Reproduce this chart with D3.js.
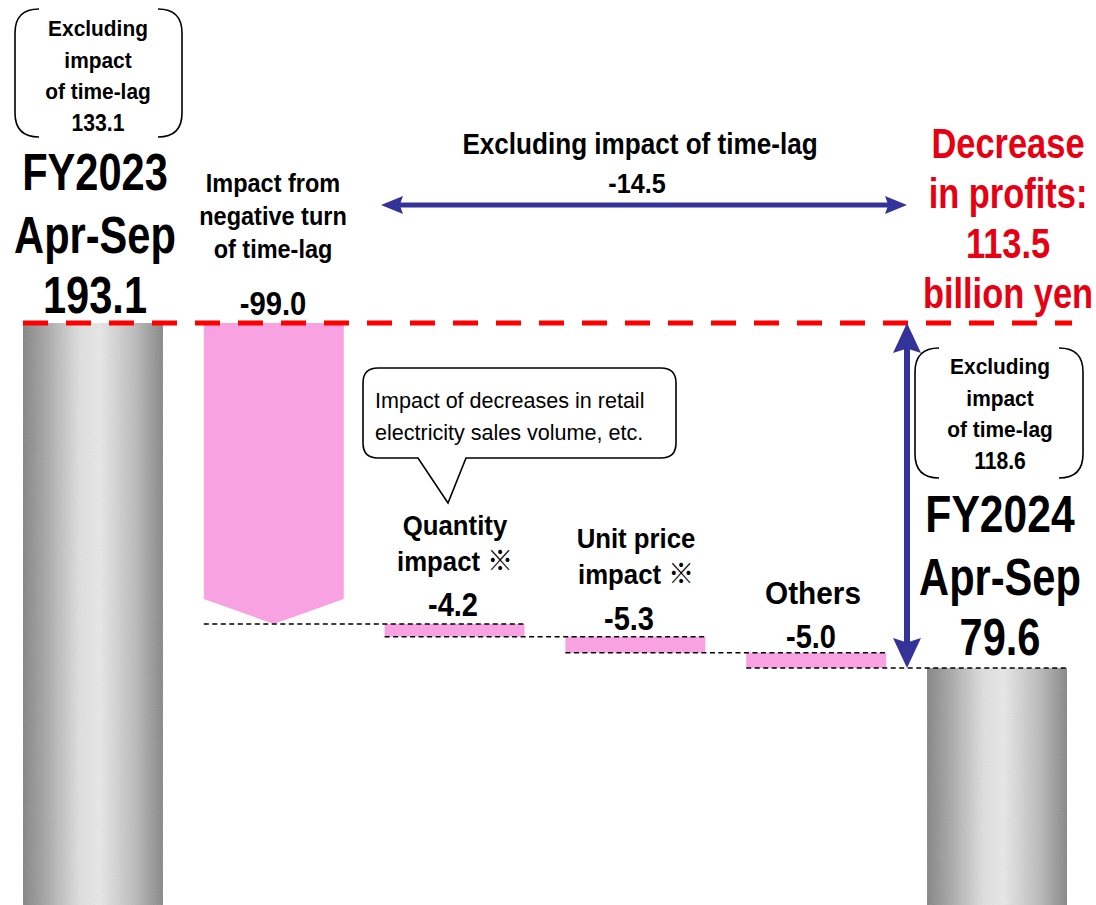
<!DOCTYPE html>
<html>
<head>
<meta charset="utf-8">
<script src="https://cdn.jsdelivr.net/npm/d3@7"></script>
<style>
  html, body { margin: 0; padding: 0; background: #fff; }
  svg { display: block; }
  text { font-family: "Liberation Sans", Arial, "Noto Sans CJK JP", sans-serif; }
</style>
</head>
<body>
<svg id="chart" width="1096" height="905"></svg>
<script>
// Ordinary profit bridge, FY2023 Apr-Sep -> FY2024 Apr-Sep (billion yen)
const steps = ["FY2023", "TimeLag", "Quantity", "UnitPrice", "Others", "FY2024"];
const startValue = 193.1;
const endValue = 79.6;
const deltas = [-99.0, -4.2, -5.3, -5.0];          // TimeLag, Quantity, UnitPrice, Others
const excludingTimeLag = [133.1, 118.6];            // FY2023, FY2024
const excludingChange = -14.5;
const totalChange = -113.5;

const stepLabels = [
  ["FY2023", "Apr-Sep"],
  ["Impact from", "negative turn", "of time-lag"],
  ["Quantity", "impact \u203B"],
  ["Unit price", "impact \u203B"],
  ["Others"],
  ["FY2024", "Apr-Sep"]
];
const calloutLines = ["Impact of decreases in retail", "electricity sales volume, etc."];

const svg = d3.select("#chart");

const x = d3.scaleBand().domain(steps).range([23, 1067]).paddingInner(0.226).paddingOuter(0);
const y = d3.scaleLinear().domain([0, startValue]).range([910, 323]);

const PINK = "#f8a2e2", BLUE = "#333399", RED = "#e60012";

// running levels after each step
const levels = [startValue];
deltas.forEach(d => levels.push(+(levels[levels.length - 1] + d).toFixed(1)));

const defs = svg.append("defs");
const grad = defs.append("linearGradient").attr("id", "cyl").attr("x1", 0).attr("x2", 1).attr("y1", 0).attr("y2", 0);
[[0, "#828282"], [0.16, "#a6a6a6"], [0.4, "#e0e0e0"], [0.55, "#e9e9e9"], [0.8, "#bcbcbc"], [1, "#848484"]]
  .forEach(([o, c]) => grad.append("stop").attr("offset", o).attr("stop-color", c));
// fine grain on the cylinder texture
const grain = defs.append("filter").attr("id", "grain").attr("x", 0).attr("y", 0).attr("width", 1).attr("height", 1);
grain.append("feTurbulence").attr("type", "fractalNoise").attr("baseFrequency", 0.9).attr("numOctaves", 1).attr("seed", 3).attr("result", "n");
grain.append("feColorMatrix").attr("in", "n").attr("type", "matrix")
  .attr("values", "0 0 0 0 0.5  0 0 0 0 0.5  0 0 0 0 0.5  0 0 0 0.35 -0.08").attr("result", "g");
grain.append("feComposite").attr("in", "g").attr("in2", "SourceGraphic").attr("operator", "in").attr("result", "gi");
grain.append("feMerge").selectAll("feMergeNode").data(["SourceGraphic", "gi"]).join("feMergeNode").attr("in", d => d);

// total bars (cylinder look)
const totals = [{ k: "FY2023", v: startValue }, { k: "FY2024", v: endValue }];
svg.selectAll("rect.total").data(totals).join("rect")
  .attr("class", "total")
  .attr("x", d => x(d.k)).attr("width", x.bandwidth())
  .attr("y", d => y(d.v)).attr("height", d => y(0) - y(d.v))
  .attr("fill", "url(#cyl)")
  .attr("filter", "url(#grain)");

// time-lag step drawn as a downward block arrow
{
  const k = steps[1];
  const x0 = x(k), x1 = x(k) + x.bandwidth(), xc = (x0 + x1) / 2;
  const yTop = y(levels[0]), yEnd = y(levels[1]);
  svg.append("path")
    .attr("d", `M${x0},${yTop}H${x1}V${yEnd - 25}L${xc},${yEnd}L${x0},${yEnd - 25}Z`)
    .attr("fill", PINK);
}

// remaining decrease steps
const small = deltas.slice(1).map((d, i) => ({ k: steps[i + 2], from: levels[i + 1], to: levels[i + 2] }));
svg.selectAll("rect.step").data(small).join("rect")
  .attr("class", "step")
  .attr("x", d => x(d.k)).attr("width", x.bandwidth())
  .attr("y", d => y(d.from)).attr("height", d => y(d.to) - y(d.from))
  .attr("fill", PINK);

// dashed connectors between consecutive steps
const conn = levels.slice(1).map((v, i) => ({ v, a: steps[i + 1], b: steps[i + 2] }));
svg.selectAll("line.conn").data(conn).join("line")
  .attr("class", "conn")
  .attr("x1", d => x(d.a)).attr("x2", d => x(d.b) + x.bandwidth())
  .attr("y1", d => y(d.v)).attr("y2", d => y(d.v))
  .attr("stroke", "#000").attr("stroke-width", 1.5).attr("stroke-dasharray", "5,3.5");

// FY2023 level reference line
svg.append("line")
  .attr("x1", 23).attr("x2", 1072)
  .attr("y1", y(startValue)).attr("y2", y(startValue))
  .attr("stroke", "#ff0000").attr("stroke-width", 5).attr("stroke-dasharray", "25,18");

// arrows
function arrowHead(tip, dir, len, half) {
  const [tx, ty] = tip, [dx, dy] = dir;
  const bx = tx - dx * len, by = ty - dy * len;
  const nx = -dy, ny = dx;
  const notch = len * 0.15;
  return `M${tx},${ty}L${bx + nx * half},${by + ny * half}L${tx - dx * (len - notch)},${ty - dy * (len - notch)}L${bx - nx * half},${by - ny * half}Z`;
}
const hY = 205, hX0 = 381, hX1 = 907;
svg.append("line").attr("x1", hX0 + 15).attr("x2", hX1 - 15).attr("y1", hY).attr("y2", hY)
  .attr("stroke", BLUE).attr("stroke-width", 5);
svg.append("path").attr("d", arrowHead([hX0, hY], [-1, 0], 22, 9)).attr("fill", BLUE);
svg.append("path").attr("d", arrowHead([hX1, hY], [1, 0], 22, 9)).attr("fill", BLUE);

const vX = 907, vY0 = y(startValue), vY1 = y(endValue);
svg.append("line").attr("x1", vX).attr("x2", vX).attr("y1", vY0 + 20).attr("y2", vY1 - 20)
  .attr("stroke", BLUE).attr("stroke-width", 6);
svg.append("path").attr("d", arrowHead([vX, vY0], [0, -1], 30, 14)).attr("fill", BLUE);
svg.append("path").attr("d", arrowHead([vX, vY1], [0, 1], 30, 14)).attr("fill", BLUE);

// text helper (slightly condensed)
function label(str, cx, by, size, opt = {}) {
  const sx = opt.sx ?? 0.9;
  return svg.append("text")
    .attr("transform", `translate(${cx},${by}) scale(${sx},1)`)
    .attr("text-anchor", opt.anchor || "middle")
    .attr("font-size", size)
    .attr("font-weight", opt.weight || "bold")
    .attr("fill", opt.fill || "#000")
    .text(str);
}
const fmt = v => (v < 0 ? "-" : "") + Math.abs(v).toFixed(1);

// bracket boxes with "excluding time-lag" figures
function bracketBox(x0, y0, x1, y1, r) {
  [[x0, x0 + r], [x1, x1 - r]].forEach(([edge, inner]) => {
    svg.append("path")
      .attr("d", `M${inner},${y0}Q${edge},${y0} ${edge},${y0 + r}V${y1 - r}Q${edge},${y1} ${inner},${y1}`)
      .attr("fill", "none").attr("stroke", "#000").attr("stroke-width", 1.6);
  });
}
bracketBox(15, 9, 182, 137, 24);
bracketBox(915, 348, 1083, 478, 24);
const boxLines = ["Excluding", "impact", "of time-lag"];
[[98, 36, excludingTimeLag[0]], [1000, 374, excludingTimeLag[1]]].forEach(([cx, by, v]) => {
  boxLines.forEach((s, i) => label(s, cx, by + i * 31.5, 22, { sx: 0.95 }));
  label(fmt(v), cx, by + 95, 23, { sx: 0.92 });
});

// totals
label(stepLabels[0][0], 95, 190, 52, { sx: 0.8 });
label(stepLabels[0][1], 95, 253, 52, { sx: 0.8 });
label(fmt(startValue), 95, 313, 52, { sx: 0.8 });
label(stepLabels[5][0], 1000, 532, 52, { sx: 0.82 });
label(stepLabels[5][1], 1000, 595, 52, { sx: 0.8 });
label(fmt(endValue), 1000, 655, 52, { sx: 0.8 });

// step labels
stepLabels[1].forEach((s, i) => label(s, 273, 192 + i * 33, 25, { sx: 0.94 }));
label(fmt(deltas[0]), 273, 315, 34, { sx: 0.86 });

stepLabels[2].forEach((s, i) => label(s, 455, 535 + i * 36, 28, { sx: 0.92 }));
label(fmt(deltas[1]), 453, 616, 33, { sx: 0.88 });
stepLabels[3].forEach((s, i) => label(s, 636, 548 + i * 36, 28, { sx: 0.92 }));
label(fmt(deltas[2]), 629, 630, 33, { sx: 0.88 });
stepLabels[4].forEach((s, i) => label(s, 813, 604, 31, { sx: 0.96 }));
label(fmt(deltas[3]), 811, 648, 33, { sx: 0.88 });

// excluding time-lag change over the horizontal arrow
label("Excluding impact of time-lag", 640, 154, 30, { sx: 0.87 });
label(fmt(excludingChange), 637, 193, 28, { sx: 0.9 });

// headline decrease
["Decrease", "in profits:", fmt(Math.abs(totalChange)), "billion yen"]
  .forEach((s, i) => label(s, 1008, 158 + i * 50, 42, { sx: 0.82, fill: RED }));

// callout bubble
svg.append("path")
  .attr("d", "M378,368H661Q676,368 676,383V443Q676,458 661,458H466L448,503L418,458H378Q363,458 363,443V383Q363,368 378,368Z")
  .attr("fill", "#fff").attr("stroke", "#000").attr("stroke-width", 1.6);
calloutLines.forEach((s, i) => label(s, 375, 408 + i * 32, 22, { anchor: "start", weight: "normal", sx: 0.98 }));
</script>
</body>
</html>
